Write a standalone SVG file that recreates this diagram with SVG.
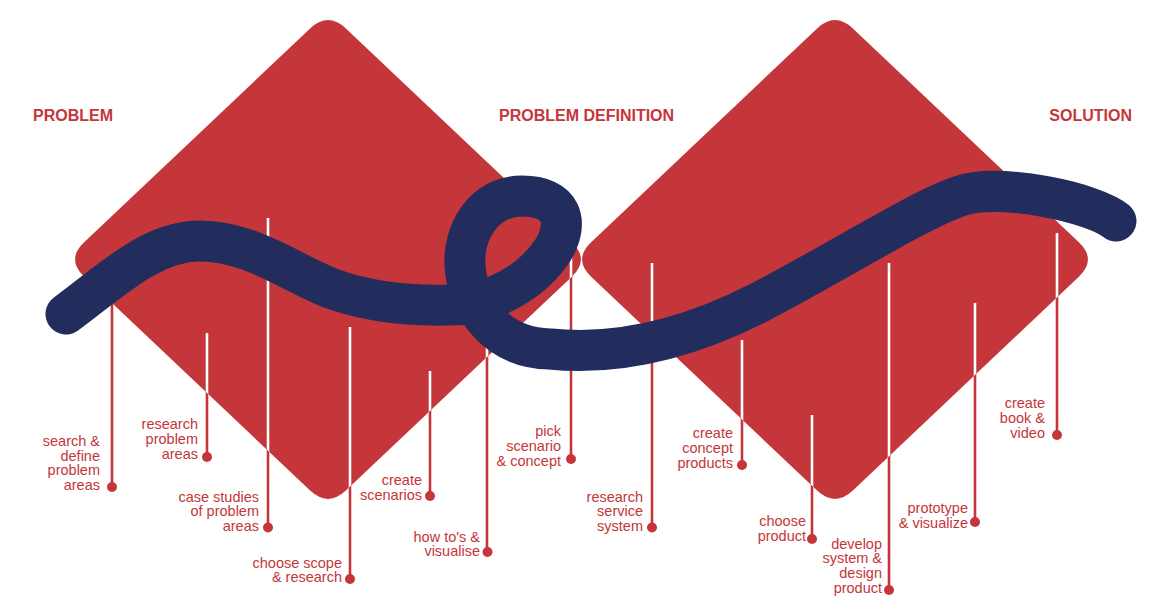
<svg xmlns="http://www.w3.org/2000/svg" xmlns:xlink="http://www.w3.org/1999/xlink" width="1160" height="612" viewBox="0 0 1160 612">
<style>
.dia{fill:#c4363a}
.stem{stroke:#c4363a;stroke-width:2.6;fill:none}
.wstem{stroke:#ffffff;stroke-width:2.6;fill:none}
.dot{fill:#c4363a}
.lbl{font-family:"Liberation Sans",Arial,sans-serif;font-size:14.5px;fill:#c4363a;text-anchor:end}
.hdr{font-family:"Liberation Sans",Arial,sans-serif;font-size:16px;font-weight:bold;fill:#c4363a}
.curve{fill:none;stroke:#222d5e;stroke-width:41;stroke-linecap:round;stroke-linejoin:round}
</style>
<defs>
<path id="d1" d="M346.15 28.68 L571.85 242.32 Q590 259.5 571.85 276.68 L346.15 490.32 Q328 507.5 309.85 490.32 L84.15 276.68 Q66 259.5 84.15 242.32 L309.85 28.68 Q328 11.5 346.15 28.68 Z"/>
<path id="d2" d="M853.15 28.68 L1078.85 242.32 Q1097 259.5 1078.85 276.68 L853.15 490.32 Q835 507.5 816.85 490.32 L591.15 276.68 Q573 259.5 591.15 242.32 L816.85 28.68 Q835 11.5 853.15 28.68 Z"/>
<clipPath id="inDia"><use xlink:href="#d1"/><use xlink:href="#d2"/></clipPath>
</defs>
<g id="diamonds">
<use xlink:href="#d1" class="dia"/>
<use xlink:href="#d2" class="dia"/>
</g>
<g id="connectors">
<g id="stems-red">
<line class="stem" x1="112" y1="290" x2="112" y2="487"/>
<line class="stem" x1="207" y1="333" x2="207" y2="457"/>
<line class="stem" x1="268" y1="218" x2="268" y2="527"/>
<line class="stem" x1="350" y1="327" x2="350" y2="579"/>
<line class="stem" x1="430" y1="371" x2="430" y2="496"/>
<line class="stem" x1="487" y1="330" x2="487" y2="552"/>
<line class="stem" x1="571" y1="256" x2="571" y2="459"/>
<line class="stem" x1="652" y1="263" x2="652" y2="527"/>
<line class="stem" x1="742" y1="340" x2="742" y2="465"/>
<line class="stem" x1="812" y1="415" x2="812" y2="539"/>
<line class="stem" x1="889" y1="263" x2="889" y2="590"/>
<line class="stem" x1="975" y1="303" x2="975" y2="522"/>
<line class="stem" x1="1057" y1="233" x2="1057" y2="435"/>
</g>
<g id="stems-white" clip-path="url(#inDia)">
<line class="wstem" x1="112" y1="290" x2="112" y2="487"/>
<line class="wstem" x1="207" y1="333" x2="207" y2="457"/>
<line class="wstem" x1="268" y1="218" x2="268" y2="527"/>
<line class="wstem" x1="350" y1="327" x2="350" y2="579"/>
<line class="wstem" x1="430" y1="371" x2="430" y2="496"/>
<line class="wstem" x1="487" y1="330" x2="487" y2="552"/>
<line class="wstem" x1="571" y1="256" x2="571" y2="459"/>
<line class="wstem" x1="652" y1="263" x2="652" y2="527"/>
<line class="wstem" x1="742" y1="340" x2="742" y2="465"/>
<line class="wstem" x1="812" y1="415" x2="812" y2="539"/>
<line class="wstem" x1="889" y1="263" x2="889" y2="590"/>
<line class="wstem" x1="975" y1="303" x2="975" y2="522"/>
<line class="wstem" x1="1057" y1="233" x2="1057" y2="435"/>
</g>
</g>
<g id="path-curve">
<path class="curve" d="M66 314 C110 282 150 241 200 241 C250 241 290 272 330 288 C370 303 410 306 450 305 C492 305 532 282 553 250 C570 222 562 196 522 196 C484 196 463 232 465 265 C467 305 495 348 550 349 C620 356 690 338 760 302 C830 266 920 209 960 196 C1000 182 1095 203 1116 221"/>
</g>
<g id="headers">
<text class="hdr" x="33" y="121">PROBLEM</text>
<text class="hdr" x="499" y="121">PROBLEM DEFINITION</text>
<text class="hdr" x="1132" y="121" text-anchor="end">SOLUTION</text>
</g>
<g id="n1"><circle class="dot" cx="112" cy="487" r="5"/><text class="lbl" x="100" y="445.8"><tspan x="100">search &amp;</tspan><tspan x="100" dy="14.8">define</tspan><tspan x="100" dy="14.8">problem</tspan><tspan x="100" dy="14.8">areas</tspan></text></g>
<g id="n2"><circle class="dot" cx="207" cy="457" r="5"/><text class="lbl" x="198" y="429.4"><tspan x="198">research</tspan><tspan x="198" dy="14.8">problem</tspan><tspan x="198" dy="14.8">areas</tspan></text></g>
<g id="n3"><circle class="dot" cx="268" cy="527.5" r="5"/><text class="lbl" x="259" y="501.6"><tspan x="259">case studies</tspan><tspan x="259" dy="14.8">of problem</tspan><tspan x="259" dy="14.8">areas</tspan></text></g>
<g id="n4"><circle class="dot" cx="350" cy="579" r="5"/><text class="lbl" x="342" y="567.6"><tspan x="342">choose scope</tspan><tspan x="342" dy="14.8">&amp; research</tspan></text></g>
<g id="n5"><circle class="dot" cx="430" cy="496" r="5"/><text class="lbl" x="422" y="485.3"><tspan x="422">create</tspan><tspan x="422" dy="14.8">scenarios</tspan></text></g>
<g id="n6"><circle class="dot" cx="487.5" cy="552" r="5"/><text class="lbl" x="480" y="541.6"><tspan x="480">how to's &amp;</tspan><tspan x="480" dy="14.8">visualise</tspan></text></g>
<g id="n7"><circle class="dot" cx="571" cy="459" r="5"/><text class="lbl" x="561" y="436"><tspan x="561">pick</tspan><tspan x="561" dy="14.8">scenario</tspan><tspan x="561" dy="14.8">&amp; concept</tspan></text></g>
<g id="n8"><circle class="dot" cx="652" cy="527.5" r="5"/><text class="lbl" x="643" y="501.6"><tspan x="643">research</tspan><tspan x="643" dy="14.8">service</tspan><tspan x="643" dy="14.8">system</tspan></text></g>
<g id="n9"><circle class="dot" cx="742" cy="465" r="5"/><text class="lbl" x="733" y="438.3"><tspan x="733">create</tspan><tspan x="733" dy="14.8">concept</tspan><tspan x="733" dy="14.8">products</tspan></text></g>
<g id="n10"><circle class="dot" cx="812" cy="539" r="5"/><text class="lbl" x="806" y="525.7"><tspan x="806">choose</tspan><tspan x="806" dy="14.8">product</tspan></text></g>
<g id="n11"><circle class="dot" cx="889" cy="590" r="5"/><text class="lbl" x="882" y="548.6"><tspan x="882">develop</tspan><tspan x="882" dy="14.8">system &amp;</tspan><tspan x="882" dy="14.8">design</tspan><tspan x="882" dy="14.8">product</tspan></text></g>
<g id="n12"><circle class="dot" cx="975" cy="522" r="5"/><text class="lbl" x="968" y="513.3"><tspan x="968">prototype</tspan><tspan x="968" dy="14.8">&amp; visualize</tspan></text></g>
<g id="n13"><circle class="dot" cx="1057" cy="435" r="5"/><text class="lbl" x="1045" y="408"><tspan x="1045">create</tspan><tspan x="1045" dy="14.8">book &amp;</tspan><tspan x="1045" dy="14.8">video</tspan></text></g>
</svg>
